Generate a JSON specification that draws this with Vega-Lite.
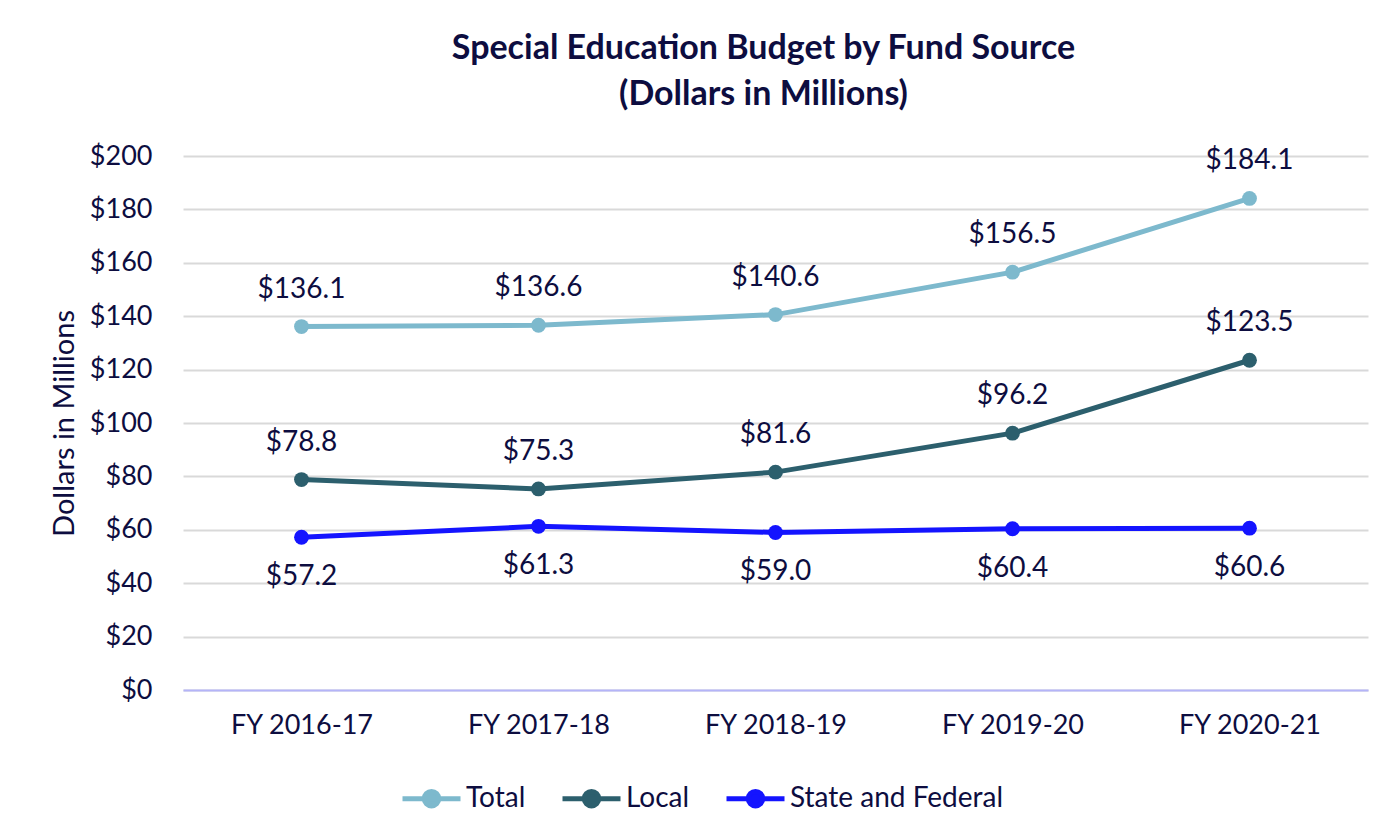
{
  "$schema": "https://vega.github.io/schema/vega-lite/v6.json",
  "autosize": {"type": "none"},
  "width": 1185,
  "height": 534,
  "padding": {"left": 183, "top": 156, "right": 15, "bottom": 142},
  "background": "white",
  "title": {
    "text": ["Special Education Budget by Fund Source", "(Dollars in Millions)"],
    "font": "Lato",
    "fontSize": 34,
    "fontWeight": "bold",
    "color": "#0D0D40",
    "anchor": "middle",
    "lineHeight": 46,
    "offset": 30,
    "dx": -12
  },
  "config": {
    "view": {"stroke": null},
    "font": "Lato",
    "axis": {
      "labelFont": "Lato",
      "titleFont": "Lato",
      "labelColor": "#0D0D40",
      "titleColor": "#0D0D40"
    }
  },
  "data": {
    "values": [
      {"year": "FY 2016-17", "series": "Total", "value": 136.1},
      {"year": "FY 2017-18", "series": "Total", "value": 136.6},
      {"year": "FY 2018-19", "series": "Total", "value": 140.6},
      {"year": "FY 2019-20", "series": "Total", "value": 156.5},
      {"year": "FY 2020-21", "series": "Total", "value": 184.1},
      {"year": "FY 2016-17", "series": "Local", "value": 78.8},
      {"year": "FY 2017-18", "series": "Local", "value": 75.3},
      {"year": "FY 2018-19", "series": "Local", "value": 81.6},
      {"year": "FY 2019-20", "series": "Local", "value": 96.2},
      {"year": "FY 2020-21", "series": "Local", "value": 123.5},
      {"year": "FY 2016-17", "series": "State and Federal", "value": 57.2},
      {"year": "FY 2017-18", "series": "State and Federal", "value": 61.3},
      {"year": "FY 2018-19", "series": "State and Federal", "value": 59.0},
      {"year": "FY 2019-20", "series": "State and Federal", "value": 60.4},
      {"year": "FY 2020-21", "series": "State and Federal", "value": 60.6}
    ]
  },
  "encoding": {
    "x": {
      "field": "year",
      "type": "ordinal",
      "sort": null,
      "scale": {"type": "point", "padding": 0.5},
      "axis": {
        "title": null,
        "labelAngle": 0,
        "labelFontSize": 27,
        "labelPadding": 22,
        "ticks": false,
        "domain": true,
        "domainColor": "#B4B4F8",
        "domainWidth": 2,
        "grid": false
      }
    },
    "y": {
      "field": "value",
      "type": "quantitative",
      "scale": {"domain": [0, 200], "nice": false},
      "axis": {
        "title": "Dollars in Millions",
        "titleFontSize": 29,
        "titleFontWeight": "normal",
        "titlePadding": 10,
        "values": [0, 20, 40, 60, 80, 100, 120, 140, 160, 180, 200],
        "format": "$.0f",
        "labelFontSize": 27,
        "labelPadding": 31,
        "ticks": false,
        "domain": false,
        "grid": true,
        "gridColor": "#D9D9D9",
        "gridWidth": 2
      }
    },
    "color": {
      "field": "series",
      "type": "nominal",
      "sort": ["Total", "Local", "State and Federal"],
      "scale": {
        "domain": ["Total", "Local", "State and Federal"],
        "range": ["#7DB9CD", "#2C5F6D", "#1414FF"]
      },
      "legend": {
        "title": null,
        "orient": "none",
        "direction": "horizontal",
        "legendX": 217,
        "legendY": 611,
        "labelFont": "Lato",
        "labelFontSize": 28,
        "labelColor": "#0D0D40",
        "labelLimit": 400,
        "labelOffset": 3,
        "columnPadding": 26,
        "symbolType": "M-1,0L1,0M-0.25,0A0.25,0.25,0,1,1,0.25,0A0.25,0.25,0,1,1,-0.25,0Z",
        "symbolSize": 3364,
        "symbolStrokeWidth": 5,
        "encode": {
          "symbols": {
            "update": {
              "fill": {"scale": "color", "field": "value"},
              "stroke": {"scale": "color", "field": "value"}
            }
          }
        }
      }
    }
  },
  "layer": [
    {
      "mark": {"type": "line", "strokeWidth": 5}
    },
    {
      "mark": {"type": "point", "filled": true, "size": 220, "opacity": 1}
    },
    {
      "transform": [{"filter": "datum.series !== 'State and Federal'"}],
      "mark": {"type": "text", "dy": -37, "baseline": "middle", "align": "center", "font": "Lato", "fontSize": 28, "color": "#0D0D40"},
      "encoding": {
        "text": {"field": "value", "type": "quantitative", "format": "$.1f"},
        "color": {"value": "#0D0D40"}
      }
    },
    {
      "transform": [{"filter": "datum.series === 'State and Federal'"}],
      "mark": {"type": "text", "dy": 40, "baseline": "middle", "align": "center", "font": "Lato", "fontSize": 28, "color": "#0D0D40"},
      "encoding": {
        "text": {"field": "value", "type": "quantitative", "format": "$.1f"},
        "color": {"value": "#0D0D40"}
      }
    }
  ]
}
